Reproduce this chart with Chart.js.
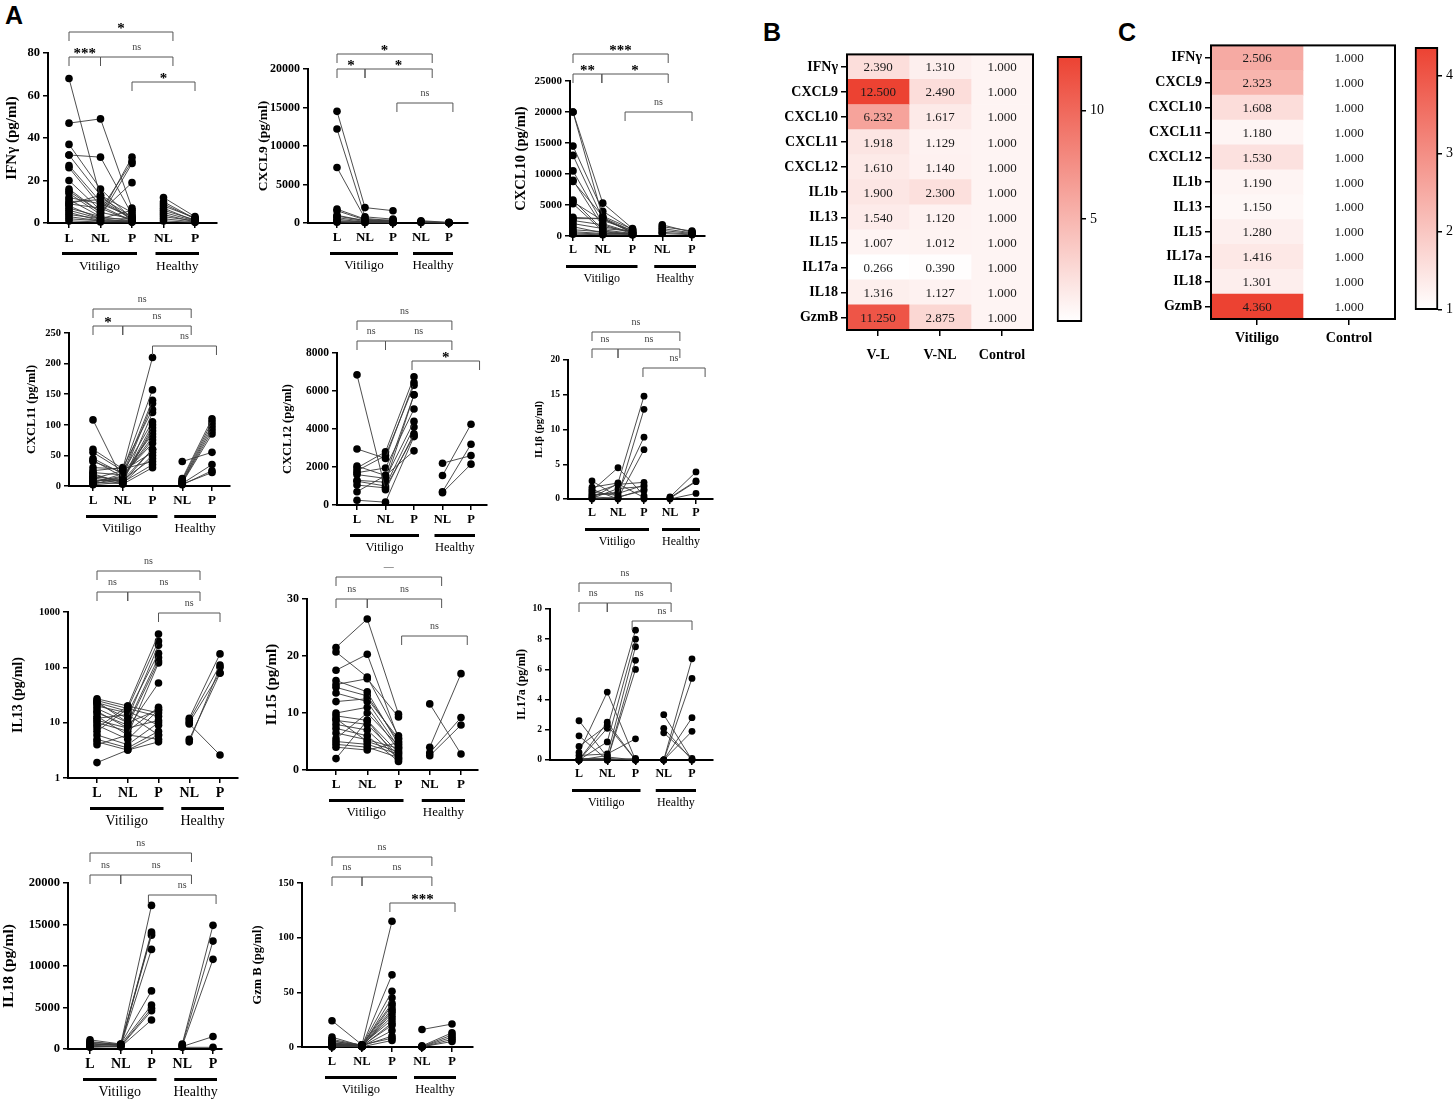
<!DOCTYPE html>
<html>
<head>
<meta charset="utf-8">
<title>Cytokines in vitiligo</title>
<script src="https://cdn.jsdelivr.net/npm/chart.js@4.4.1/dist/chart.umd.min.js"></script>
<style>
  body { margin: 0; width: 1455px; height: 1100px; position: relative; overflow: hidden; background: #fff; }
  canvas { position: absolute; }
  .tag { position: absolute; font: bold 25px 'Liberation Sans', Arial, sans-serif; color: #000; }
</style>
</head>
<body>
<div class="tag" style="left:5px;top:1px">A</div>
<div class="tag" style="left:763px;top:18px">B</div>
<div class="tag" style="left:1118px;top:18px">C</div>
<script>
/* global Chart */

// ---- panel A: paired samples, vitiligo [L, NL, P], healthy [NL, P] ----
const xLabels = ['L', 'NL', 'P', 'NL', 'P'];
const groupLabels = ['Vitiligo', 'Healthy'];

const ifngVitiligo = [
  [68, 12, 3], [47, 49, 7], [37, 16, 2], [32, 31, 4], [32, 13, 1], [27, 10, 2],
  [26, 8, 1], [20, 6, 29], [15, 5, 19], [14, 4, 31], [11, 3, 28], [10, 11, 2],
  [9, 7, 1], [8, 2, 6], [7, 3, 1], [6, 2, 2], [5, 1, 1], [4, 2, 0.5], [3, 1, 1],
  [2, 1, 0.5], [1, 0.5, 0.5], [12, 9, 3], [9, 13, 5], [16, 5, 2],
];
const ifngHealthy = [[12, 3], [10, 2], [9, 2], [8, 2.5], [7, 1], [6, 1.5], [5, 1], [4, 0.5], [3, 1], [2, 0.5], [1, 0.3]];

const cxcl9Vitiligo = [
  [14500, 2000, 1600], [12200, 800, 500], [7200, 600, 300], [1800, 500, 200],
  [1600, 400, 300], [1000, 300, 400], [900, 300, 100], [700, 200, 200],
  [500, 100, 50], [300, 150, 100], [200, 100, 80], [100, 50, 30],
];
const cxcl9Healthy = [[300, 80], [200, 50], [150, 30], [100, 20], [50, 10]];

const cxcl10Vitiligo = [
  [20000, 3000, 800], [20000, 5300, 1200], [14500, 4000, 1000], [13000, 2800, 600],
  [10500, 2000, 500], [9000, 1500, 700], [8800, 3200, 1100], [5800, 1000, 400],
  [5500, 2500, 900], [5200, 800, 300], [3000, 2800, 600], [2800, 2800, 500],
  [2500, 1800, 400], [2000, 1200, 800], [1500, 500, 300], [1000, 700, 200],
  [700, 400, 500], [500, 300, 300], [300, 200, 200],
];
const cxcl10Healthy = [[1800, 600], [1500, 800], [1200, 500], [900, 400], [600, 300], [400, 200]];

const cxcl11Vitiligo = [
  [108, 10, 60], [60, 28, 210], [55, 25, 157], [45, 20, 140], [42, 15, 135],
  [25, 30, 125], [20, 5, 120], [15, 10, 100], [10, 8, 95], [8, 12, 90],
  [5, 20, 85], [3, 15, 80], [22, 18, 70], [18, 6, 60], [12, 25, 55],
  [6, 4, 50], [4, 10, 45], [30, 28, 40], [2, 6, 35], [14, 3, 30],
  [40, 22, 105], [7, 16, 75],
];
const cxcl11Healthy = [[40, 55], [12, 110], [10, 105], [8, 100], [7, 95], [6, 90], [5, 85], [4, 35], [3, 22], [2, 25]];

const cxcl12Vitiligo = [
  [6850, 800, 3750], [2950, 2450, 6450], [2050, 1550, 5800], [1950, 2800, 6750],
  [1800, 2600, 6300], [1700, 1950, 5050], [1600, 1400, 4400], [1300, 1200, 5800],
  [1250, 1000, 4100], [1050, 900, 3650], [700, 1550, 2850], [250, 150, 3600],
];
const cxcl12Healthy = [[2200, 2600], [1550, 4250], [700, 3200], [650, 2150]];

const il1bVitiligo = [
  [2.6, 0.3, 1.2], [1.7, 2.3, 14.8], [1.2, 4.5, 0.5], [1.0, 0.5, 12.9],
  [0.8, 2.1, 2.4], [0.5, 1.0, 8.9], [0.3, 0.1, 7.1], [0.1, 1.5, 1.8],
  [0, 0.2, 1.4], [1.4, 0, 0], [0.6, 0.8, 2.0], [0.2, 2.2, 0.2],
];
const il1bHealthy = [[0.3, 3.9], [0.2, 2.6], [0.1, 2.5], [0, 0.8]];

const il13Vitiligo = [
  [27, 20, 400], [25, 18, 300], [22, 12, 250], [20, 15, 180], [18, 10, 150],
  [15, 9, 130], [13, 6, 120], [11, 8, 52], [10, 7, 19], [9, 5, 17],
  [8, 20, 15], [7, 18, 13], [6, 4, 10], [5, 3.5, 7], [4.5, 3.2, 6],
  [4, 6, 5], [1.9, 3.2, 4.5], [24, 10, 17], [16, 8, 11], [12, 14, 6], [23, 16, 9],
];
const il13Healthy = [[12, 175], [11, 110], [10, 80], [9.5, 2.6], [5, 78], [4.5, 100]];

const il15Vitiligo = [
  [21.5, 26.5, 9.8], [20.7, 16.3, 6], [17.5, 20.3, 5.5], [15.7, 13.7, 4.5],
  [15, 16, 9.3], [14.5, 13, 5], [13.5, 12, 4], [10, 11, 3.5], [9.5, 8.7, 3],
  [8.7, 8, 2.5], [8, 7, 2], [7.3, 6, 1.5], [6.5, 5.3, 3.8], [5, 4.5, 2.8],
  [4.5, 4, 2.2], [4, 3.5, 4.8], [2, 8.7, 1.8], [12, 12.5, 5.5], [9, 5, 3.2], [5.5, 10, 4.2],
];
const il15Healthy = [[11.6, 2.8], [4, 16.9], [3, 9.2], [2.5, 7.9]];

const il17aVitiligo = [
  [2.6, 0.2, 0], [1.6, 0, 0.1], [0.9, 2.3, 0], [0.5, 4.5, 0], [0.3, 0.4, 1.4],
  [0, 2.5, 0], [0, 2.1, 8.6], [0, 1.2, 8.0], [0, 0.3, 7.5], [0, 0, 6.6],
  [0, 0, 6.0], [0.1, 0.1, 0],
];
const il17aHealthy = [[3.0, 0], [2.1, 0], [1.8, 0.1], [0, 6.7], [0, 5.4], [0, 2.8], [0, 1.9]];

const il18Vitiligo = [
  [1100, 600, 17300], [900, 500, 14100], [800, 550, 13900], [700, 450, 13700],
  [600, 400, 12000], [500, 600, 7000], [400, 500, 5300], [300, 350, 4900],
  [200, 300, 4600], [350, 250, 3500],
];
const il18Healthy = [[600, 14900], [500, 13000], [400, 10800], [300, 1500], [200, 200]];

const gzmbVitiligo = [
  [24, 2, 115], [9, 1, 66], [7, 1.5, 51], [6, 0.5, 45], [5, 2, 40], [4, 1, 35],
  [3, 0.5, 31], [2.5, 1, 28], [2, 2, 25], [1.5, 0.5, 22], [1, 1, 20], [0.5, 0.5, 15],
  [0, 1, 10], [3.5, 2, 8], [1, 0.2, 6], [2, 1.5, 38], [0.8, 0.3, 33],
];
const gzmbHealthy = [[16, 21], [1, 13], [0.5, 11], [0.3, 9], [0, 7], [0.2, 5]];

// ---- panels B and C: fold change heatmaps ----
const heatRows = ['IFNγ', 'CXCL9', 'CXCL10', 'CXCL11', 'CXCL12', 'IL1b', 'IL13', 'IL15', 'IL17a', 'IL18', 'GzmB'];
const bColumns = ['V-L', 'V-NL', 'Control'];
const bVL = [2.390, 12.500, 6.232, 1.918, 1.610, 1.900, 1.540, 1.007, 0.266, 1.316, 11.250];
const bVNL = [1.310, 2.490, 1.617, 1.129, 1.140, 2.300, 1.120, 1.012, 0.390, 1.127, 2.875];
const bControl = [1.000, 1.000, 1.000, 1.000, 1.000, 1.000, 1.000, 1.000, 1.000, 1.000, 1.000];
const bScaleTicks = [5, 10];

const cColumns = ['Vitiligo', 'Control'];
const cVitiligo = [2.506, 2.323, 1.608, 1.180, 1.530, 1.190, 1.150, 1.280, 1.416, 1.301, 4.360];
const cControl = [1.000, 1.000, 1.000, 1.000, 1.000, 1.000, 1.000, 1.000, 1.000, 1.000, 1.000];
const cScaleTicks = [1, 2, 3, 4];

const SERIF = "'Liberation Serif', 'Times New Roman', serif";
const HOT = [236, 66, 50];

const heatColor = (v, min, max) => {
  const t = (v - min) / (max - min);
  const c = HOT.map((h) => Math.round(255 + (h - 255) * t));
  return `rgb(${c.join(',')})`;
};

const addCanvas = (left, top, width, height) => {
  const canvas = document.createElement('canvas');
  canvas.width = width;
  canvas.height = height;
  canvas.style.left = left + 'px';
  canvas.style.top = top + 'px';
  document.body.appendChild(canvas);
  return canvas;
};

// brackets with significance marks + group underlines
const pairedDecor = {
  id: 'pairedDecor',
  afterDraw(chart, args, opts) {
    const { ctx, chartArea, scales: { x } } = chart;
    const px = (v) => x.getPixelForValue(v);
    ctx.save();
    opts.brackets.forEach(([a, b, off, label]) => {
      const x1 = px(a);
      const x2 = px(b);
      const yy = chartArea.top - off;
      ctx.strokeStyle = '#555';
      ctx.lineWidth = 1;
      ctx.beginPath();
      ctx.moveTo(x1, yy + 9);
      ctx.lineTo(x1, yy);
      ctx.lineTo(x2, yy);
      ctx.lineTo(x2, yy + 9);
      ctx.stroke();
      const star = label.includes('*');
      ctx.fillStyle = star ? '#000' : '#444';
      ctx.font = star ? `bold 15px ${SERIF}` : `10px ${SERIF}`;
      ctx.textAlign = 'center';
      ctx.textBaseline = 'alphabetic';
      ctx.fillText(label, (x1 + x2) / 2, star ? yy + 1 : yy - 7);
    });

    const base = chartArea.bottom;
    const vit = [px(0) - 7, px(2) + 5];
    const hea = [px(3) - 8, px(4) + 4];
    ctx.fillStyle = '#000';
    ctx.fillRect(vit[0], base + 29, vit[1] - vit[0], 3);
    ctx.fillRect(hea[0], base + 29, hea[1] - hea[0], 3);
    ctx.font = `${opts.xfs}px ${SERIF}`;
    ctx.textAlign = 'center';
    ctx.textBaseline = 'middle';
    ctx.fillText(groupLabels[0], (vit[0] + vit[1]) / 2, base + 43);
    ctx.fillText(groupLabels[1], (hea[0] + hea[1]) / 2, base + 43);
    ctx.restore();
  },
};

const drawPaired = (p) => {
  const unit = (p.hP - p.L) / 4;
  const padL = Math.round(p.titleDist + 0.6 * p.tfs);
  const padT = 64;
  const padB = 58;
  const padR = 10;
  const canvas = addCanvas(p.axL - padL, p.yTop - padT,
    padL + p.axR - p.axL + padR, padT + p.yBot - p.yTop + padB);

  const line = (pts) => ({
    data: pts,
    showLine: true,
    borderColor: '#3a3a3a',
    borderWidth: 0.9,
    pointRadius: p.r || 3.8,
    pointBackgroundColor: '#000',
    pointBorderWidth: 0,
    clip: false,
  });
  const datasets = [
    ...p.vit.map((s) => line(s.map((v, i) => ({ x: i, y: v })))),
    ...p.healthy.map((s) => line(s.map((v, i) => ({ x: i + 3, y: v })))),
  ];

  const axisGrid = { drawOnChartArea: false, tickLength: 5, color: '#000', lineWidth: 1.5 };
  const axisBorder = { color: '#000', width: 2 };

  new Chart(canvas, {
    type: 'scatter',
    data: { datasets },
    options: {
      responsive: false,
      animation: false,
      events: [],
      layout: { padding: { top: padT, right: padR, left: 0, bottom: 0 } },
      plugins: {
        legend: { display: false },
        tooltip: { enabled: false },
        pairedDecor: { brackets: p.brackets, xfs: p.xfs },
      },
      scales: {
        x: {
          type: 'linear',
          min: (p.axL - p.L) / unit,
          max: (p.axR - p.L) / unit,
          afterBuildTicks: (s) => { s.ticks = xLabels.map((_, i) => ({ value: i })); },
          afterFit: (s) => { s.height = padB; },
          ticks: {
            autoSkip: false, maxRotation: 0, padding: 2, color: '#000',
            font: { family: SERIF, weight: 'bold', size: p.xfs },
            callback: (v, i) => xLabels[i],
          },
          grid: axisGrid,
          border: axisBorder,
        },
        y: {
          type: p.log ? 'logarithmic' : 'linear',
          min: p.ticks[0],
          max: p.ticks[p.ticks.length - 1],
          afterBuildTicks: (s) => { s.ticks = p.ticks.map((v) => ({ value: v })); },
          afterFit: (s) => { s.width = padL; },
          ticks: {
            padding: 3, color: '#000',
            font: { family: SERIF, weight: 'bold', size: p.fs },
            callback: (v) => String(v),
          },
          grid: axisGrid,
          border: axisBorder,
          title: {
            display: true, text: p.title, color: '#000', padding: { top: 0, bottom: 0 },
            font: { family: SERIF, weight: 'bold', size: p.tfs },
          },
        },
      },
    },
    plugins: [pairedDecor],
  });
};

const pairedPanels = [
  { title: 'IFNγ (pg/ml)', vit: ifngVitiligo, healthy: ifngHealthy, ticks: [0, 20, 40, 60, 80],
    axL: 48, axR: 217, yTop: 53, yBot: 223, L: 69, hP: 195, titleDist: 36, fs: 12.5, xfs: 13.5, tfs: 15,
    brackets: [[0, 3.3, 21, '*'], [0, 1, -4, '***'], [1, 3.3, -4, 'ns'], [2, 4, -29, '*']] },
  { title: 'CXCL9 (pg/ml)', vit: cxcl9Vitiligo, healthy: cxcl9Healthy, ticks: [0, 5000, 10000, 15000, 20000],
    axL: 308, axR: 468, yTop: 69, yBot: 223, L: 337, hP: 449, titleDist: 45, fs: 12, xfs: 13, tfs: 13.5,
    brackets: [[0, 3.4, 15, '*'], [0, 1, 0, '*'], [1, 3.4, 0, '*'], [2.14, 4.14, -34, 'ns']] },
  { title: 'CXCL10 (pg/ml)', vit: cxcl10Vitiligo, healthy: cxcl10Healthy, ticks: [0, 5000, 10000, 15000, 20000, 25000],
    axL: 570, axR: 705, yTop: 81, yBot: 236, L: 573, hP: 692, titleDist: 48, fs: 11, xfs: 12, tfs: 14.5,
    brackets: [[0, 3.2, 27, '***'], [0, 0.97, 7, '**'], [0.97, 3.2, 7, '*'], [1.75, 4, -31, 'ns']] },
  { title: 'CXCL11 (pg/ml)', vit: cxcl11Vitiligo, healthy: cxcl11Healthy, ticks: [0, 50, 100, 150, 200, 250],
    axL: 69, axR: 230, yTop: 333, yBot: 486, L: 93, hP: 212, titleDist: 37, fs: 10.5, xfs: 13, tfs: 12.5,
    brackets: [[0, 3.3, 24, 'ns'], [0, 1, 7, '*'], [1, 3.3, 7, 'ns'], [2, 4.15, -13, 'ns']] },
  { title: 'CXCL12 (pg/ml)', vit: cxcl12Vitiligo, healthy: cxcl12Healthy, ticks: [0, 2000, 4000, 6000, 8000],
    axL: 337, axR: 487, yTop: 353, yBot: 505, L: 357, hP: 471, titleDist: 49, fs: 11.5, xfs: 12.5, tfs: 12.5,
    brackets: [[0, 3.33, 32, 'ns'], [0, 1, 12, 'ns'], [1, 3.33, 12, 'ns'], [1.93, 4.3, -8, '*']] },
  { title: 'IL1β (pg/ml)', vit: il1bVitiligo, healthy: il1bHealthy, ticks: [0, 5, 10, 15, 20],
    axL: 568, axR: 713, yTop: 360, yBot: 499, L: 592, hP: 696, titleDist: 29, fs: 9.5, xfs: 12, tfs: 10.5, r: 3.4,
    brackets: [[0, 3.38, 28, 'ns'], [0, 1, 11, 'ns'], [1, 3.38, 11, 'ns'], [1.96, 4.35, -8, 'ns']] },
  { title: 'IL13 (pg/ml)', vit: il13Vitiligo, healthy: il13Healthy, ticks: [1, 10, 100, 1000], log: true,
    axL: 68, axR: 238, yTop: 612, yBot: 778, L: 97, hP: 220, titleDist: 50, fs: 10.5, xfs: 14, tfs: 14,
    brackets: [[0, 3.35, 41, 'ns'], [0, 1, 20, 'ns'], [1, 3.35, 20, 'ns'], [2, 4, -1, 'ns']] },
  { title: 'IL15 (pg/ml)', vit: il15Vitiligo, healthy: il15Healthy, ticks: [0, 10, 20, 30],
    axL: 307, axR: 478, yTop: 599, yBot: 770, L: 336, hP: 461, titleDist: 35, fs: 12, xfs: 13, tfs: 15,
    brackets: [[0, 3.38, 22, '—'], [0, 1, 0, 'ns'], [1, 3.38, 0, 'ns'], [2.1, 4.2, -37, 'ns']] },
  { title: 'IL17a (pg/ml)', vit: il17aVitiligo, healthy: il17aHealthy, ticks: [0, 2, 4, 6, 8, 10],
    axL: 550, axR: 713, yTop: 609, yBot: 760, L: 579, hP: 692, titleDist: 28, fs: 9.5, xfs: 12, tfs: 12, r: 3.4,
    brackets: [[0, 3.26, 26, 'ns'], [0, 1, 6, 'ns'], [1, 3.26, 6, 'ns'], [1.88, 4, -12, 'ns']] },
  { title: 'IL18 (pg/ml)', vit: il18Vitiligo, healthy: il18Healthy, ticks: [0, 5000, 10000, 15000, 20000],
    axL: 68, axR: 222, yTop: 883, yBot: 1049, L: 90, hP: 213, titleDist: 59, fs: 12.5, xfs: 14, tfs: 15.5,
    brackets: [[0, 3.3, 30, 'ns'], [0, 1, 8, 'ns'], [1, 3.3, 8, 'ns'], [1.9, 4.1, -12, 'ns']] },
  { title: 'Gzm B (pg/ml)', vit: gzmbVitiligo, healthy: gzmbHealthy, ticks: [0, 50, 100, 150],
    axL: 302, axR: 473, yTop: 883, yBot: 1047, L: 332, hP: 452, titleDist: 44, fs: 10.5, xfs: 12.5, tfs: 12.5,
    brackets: [[0, 3.33, 26, 'ns'], [0, 1, 6, 'ns'], [1, 3.33, 6, 'ns'], [1.93, 4.1, -20, '***']] },
];

// cell values + frame for the heatmaps
const heatDecor = {
  id: 'heatDecor',
  afterDatasetsDraw(chart) {
    const { ctx } = chart;
    ctx.save();
    ctx.fillStyle = '#1a1a1a';
    ctx.font = `13px ${SERIF}`;
    ctx.textAlign = 'center';
    ctx.textBaseline = 'middle';
    chart.data.datasets.forEach((ds, i) => {
      chart.getDatasetMeta(i).data.forEach((bar, j) => {
        ctx.fillText(ds.values[j].toFixed(3), (bar.x + bar.base) / 2, bar.y + 1);
      });
    });
    ctx.restore();
  },
  afterDraw(chart) {
    const { ctx, chartArea: a } = chart;
    ctx.save();
    ctx.strokeStyle = '#000';
    ctx.lineWidth = 2;
    ctx.strokeRect(a.left, a.top, a.right - a.left, a.bottom - a.top);
    ctx.restore();
  },
};

const drawHeat = (box, columns, colLabels, labelPad) => {
  const all = columns.flat();
  const min = Math.min(...all);
  const max = Math.max(...all);
  const yW = 80;
  const xH = 40;
  const canvas = addCanvas(box.left - yW, box.top - 6,
    yW + box.right - box.left + 6, 6 + box.bottom - box.top + xH);
  const tickGrid = { drawOnChartArea: false, offset: false, tickLength: 6, color: '#000', lineWidth: 1.5 };

  new Chart(canvas, {
    type: 'bar',
    data: {
      labels: heatRows,
      datasets: columns.map((vals) => ({
        data: vals.map(() => 1),
        values: vals,
        backgroundColor: vals.map((v) => heatColor(v, min, max)),
        borderWidth: 0,
        barPercentage: 1,
        categoryPercentage: 1,
      })),
    },
    options: {
      indexAxis: 'y',
      responsive: false,
      animation: false,
      events: [],
      layout: { padding: { top: 6, right: 6, left: 0, bottom: 0 } },
      plugins: { legend: { display: false }, tooltip: { enabled: false } },
      scales: {
        y: {
          stacked: true,
          afterFit: (s) => { s.width = yW; },
          ticks: { padding: 3, color: '#000', font: { family: SERIF, weight: 'bold', size: 14 } },
          grid: tickGrid,
          border: { display: false },
        },
        x: {
          type: 'linear',
          stacked: true,
          min: 0,
          max: columns.length,
          afterBuildTicks: (s) => { s.ticks = colLabels.map((_, i) => ({ value: i + 0.5 })); },
          afterFit: (s) => { s.height = xH; },
          ticks: {
            autoSkip: false, maxRotation: 0, padding: labelPad, color: '#000',
            font: { family: SERIF, weight: 'bold', size: 14 },
            callback: (v, i) => colLabels[i],
          },
          grid: tickGrid,
          border: { display: false },
        },
      },
    },
    plugins: [heatDecor],
  });
  return { min, max };
};

const drawScaleBar = (box, range, ticks, rightW) => {
  const { min, max } = range;
  const canvas = addCanvas(box.left - 4, box.top - 4,
    4 + box.right - box.left + rightW, box.bottom - box.top + 8);

  new Chart(canvas, {
    type: 'bar',
    data: {
      labels: [''],
      datasets: [{
        data: [[min, max]],
        backgroundColor: (c) => {
          const area = c.chart.chartArea;
          if (!area || !Number.isFinite(area.top) || area.bottom <= area.top) return '#fff';
          const g = c.chart.ctx.createLinearGradient(0, area.bottom, 0, area.top);
          g.addColorStop(0, heatColor(min, min, max));
          g.addColorStop(1, heatColor(max, min, max));
          return g;
        },
        borderColor: '#000',
        borderWidth: 2,
        borderSkipped: false,
        barPercentage: 1,
        categoryPercentage: 1,
        clip: false,
      }],
    },
    options: {
      responsive: false,
      animation: false,
      events: [],
      layout: { padding: { top: 4, bottom: 4, left: 4, right: 0 } },
      plugins: { legend: { display: false }, tooltip: { enabled: false } },
      scales: {
        x: { display: false },
        y: {
          position: 'right',
          min,
          max,
          afterBuildTicks: (s) => { s.ticks = ticks.map((v) => ({ value: v })); },
          afterFit: (s) => { s.width = rightW; },
          ticks: { padding: 4, color: '#000', font: { family: SERIF, size: 14 } },
          grid: { drawOnChartArea: false, tickLength: 4, color: '#000', lineWidth: 1.5 },
          border: { display: false },
        },
      },
    },
  });
};

pairedPanels.forEach(drawPaired);

const bRange = drawHeat({ left: 847, right: 1033, top: 49, bottom: 330 }, [bVL, bVNL, bControl], bColumns, 11);
drawScaleBar({ left: 1057, right: 1082, top: 48, bottom: 330 }, bRange, bScaleTicks, 35);

const cRange = drawHeat({ left: 1211, right: 1395, top: 40, bottom: 319 }, [cVitiligo, cControl], cColumns, 5);
drawScaleBar({ left: 1415, right: 1438, top: 39, bottom: 318 }, cRange, cScaleTicks, 17);
</script>
</body>
</html>
